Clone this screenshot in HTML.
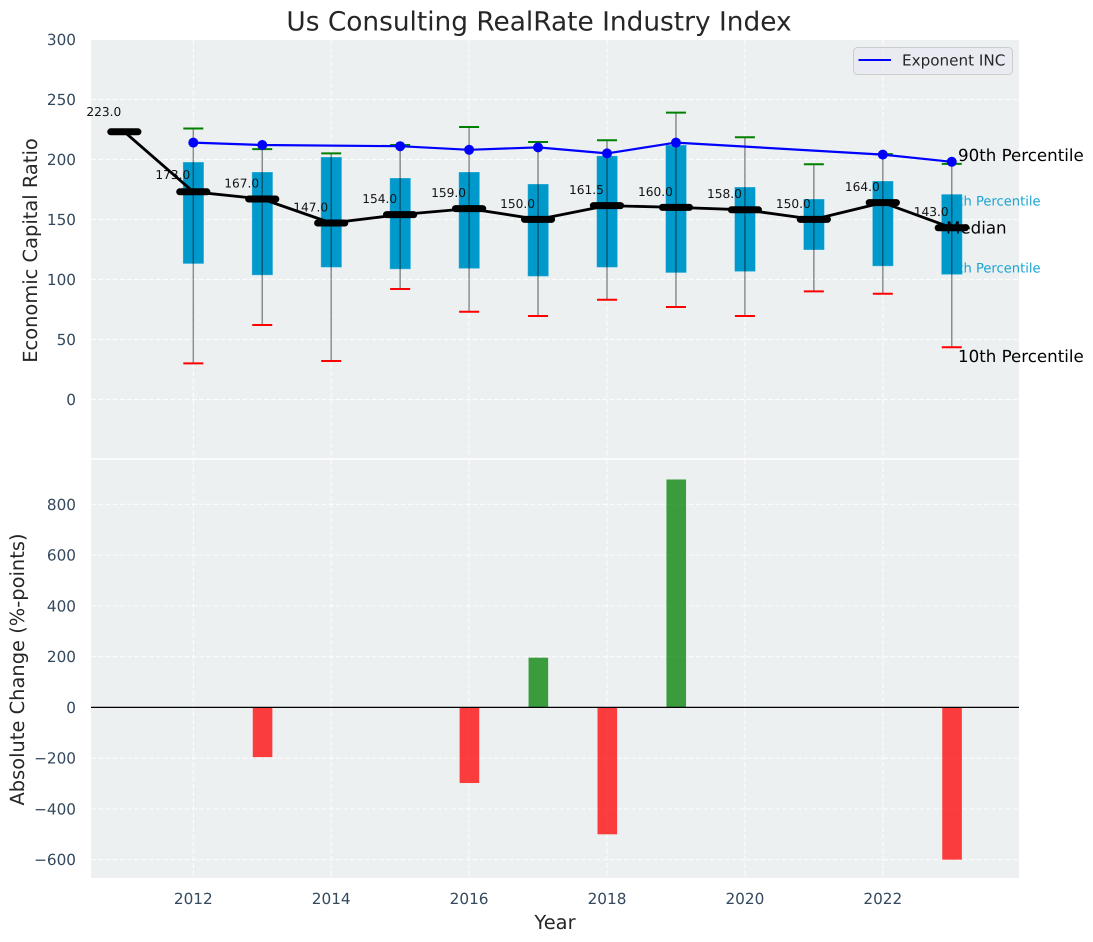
<!DOCTYPE html>
<html lang="en">
<head>
<meta charset="utf-8">
<title>Us Consulting RealRate Industry Index</title>
<style>
html,body{margin:0;padding:0;background:#fff;}
svg{display:block;font-family:"DejaVu Sans","Liberation Sans",sans-serif;text-rendering:geometricPrecision;}
.tick{font-size:15.28px;fill:#34495e;}
.axis-title{font-size:19.44px;fill:#262626;}
.note{font-size:16.67px;fill:#000;}
.cyan-note{font-size:13.1px;fill:#1ba3d1;}
.value{font-size:12.2px;fill:#111;}
</style>
</head>
<body>
<svg id="chart" width="1093" height="942" viewBox="0 0 1093 942" xmlns="http://www.w3.org/2000/svg">
  <rect x="0" y="0" width="1093" height="942" fill="#fff"/>
  <rect x="91" y="40" width="928" height="418.2" fill="#ecf0f1"/>
  <rect x="91" y="459.8" width="928" height="418.2" fill="#ecf0f1"/>
  <g id="grid"></g>
  <text class="cyan-note" x="941.7" y="205.5">75th Percentile</text>
  <text class="cyan-note" x="941.7" y="272.5">25th Percentile</text>
  <g id="boxes"></g>
  <g id="whiskers"></g>
  <g id="labels"></g>
  <g id="medians"></g>
  <g id="company"></g>
  <g id="bars"></g>
  <line x1="91" y1="707.4" x2="1019" y2="707.4" stroke="#000" stroke-width="1.2"/>
  <g id="ticks"></g>
  <text x="539" y="30.5" text-anchor="middle" font-size="26.39" fill="#262626">Us Consulting RealRate Industry Index</text>
  <text class="axis-title" transform="translate(37,250.5) rotate(-90)" text-anchor="middle">Economic Capital Ratio</text>
  <text class="axis-title" transform="translate(24,669.5) rotate(-90)" text-anchor="middle">Absolute Change (%-points)</text>
  <text class="axis-title" x="555" y="929" text-anchor="middle">Year</text>
  <text class="note" x="958" y="161">90th Percentile</text>
  <text class="note" x="946" y="233.5">Median</text>
  <text class="note" x="958" y="362">10th Percentile</text>
  <g>
    <rect x="853.5" y="47.5" width="159" height="27" rx="4" fill="#eaeaf2" fill-opacity="0.8" stroke="#cccccc" stroke-width="1"/>
    <line x1="858.5" y1="60" x2="891" y2="60" stroke="#0000ff" stroke-width="2.1"/>
    <text x="902" y="65.5" font-size="15.2" fill="#262626">Exponent INC</text>
  </g>
</svg>
<script>
var medianYears = [2011,2012,2013,2014,2015,2016,2017,2018,2019,2020,2021,2022,2023];
var medianValues = [223,173,167,147,154,159,150,161.5,160,158,150,164,143];
var boxYears = [2012,2013,2014,2015,2016,2017,2018,2019,2020,2021,2022,2023];
var p75Values = [197.8,189.5,202,184.5,189.5,179.5,203,212,177,167,182,171];
var p25Values = [113,103.5,110,108.5,109,102.5,110,105.5,106.5,124.5,111,104];
var p90Values = [225.7,208.6,205,212,227,214.5,216,239,218.5,196,204.4,196.3];
var p10Values = [30,62,32,92,73,69.5,83,77,69.5,90,88,43.5];
var companyYears = [2012,2013,2015,2016,2017,2018,2019,2022,2023];
var companyValues = [214,212,211,208,210,205,214,204,198];
var changeYears = [2013,2016,2017,2018,2019,2023];
var changeValues = [-196,-298,196,-500,898,-600];
var xTicks = [2012,2014,2016,2018,2020,2022];
var topYTicks = [0,50,100,150,200,250,300];
var bottomYTicks = [-600,-400,-200,0,200,400,600,800];

var SVGNS = 'http://www.w3.org/2000/svg';
function xPos(year){ return 193.3 + (year - 2012) * 68.95; }
function yTop(v){ return 399.4 - v * 1.2; }
function yBottom(v){ return 707.4 - v * 0.2538; }
function make(parentId, tag, attrs){
  var el = document.createElementNS(SVGNS, tag);
  for (var k in attrs) { el.setAttribute(k, attrs[k]); }
  document.getElementById(parentId).appendChild(el);
  return el;
}
function gridLine(x1,y1,x2,y2,name){
  var el = make('grid','line',{x1:x1,y1:y1,x2:x2,y2:y2,stroke:'#ffffff','stroke-opacity':0.85,'stroke-width':1.1,'stroke-dasharray':'5 2.2'});
  
  
}
xTicks.forEach(function(t){
  gridLine(xPos(t),40,xPos(t),458.2,'top-x-grid-' + t);
  gridLine(xPos(t),459.8,xPos(t),878,'bottom-x-grid-' + t);
  var label = make('ticks','text',{x:xPos(t),y:904,'text-anchor':'middle','class':'tick'});
  label.textContent = String(t);
  
  
});
topYTicks.forEach(function(t){
  if (t !== 300) { gridLine(91,yTop(t),1019,yTop(t),'top-y-grid-' + t); }
  var label = make('ticks','text',{x:76,y:yTop(t)+5.5,'text-anchor':'end','class':'tick'});
  label.textContent = String(t);
  
  
});
bottomYTicks.forEach(function(t){
  gridLine(91,yBottom(t),1019,yBottom(t),'bottom-y-grid-' + t);
  var label = make('ticks','text',{x:76,y:yBottom(t)+5.5,'text-anchor':'end','class':'tick'});
  label.textContent = String(t).replace('-', '\u2212');
  
  
});
boxYears.forEach(function(year,i){
  var x = xPos(year);
  var box = make('boxes','rect',{x:x-10.4,y:yTop(p75Values[i]),width:21,height:yTop(p25Values[i])-yTop(p75Values[i]),fill:'#0099cc',stroke:'#ffffff','stroke-opacity':0.3,'stroke-width':1});
  
  
  var whisker = make('whiskers','line',{x1:x,y1:yTop(p10Values[i]),x2:x,y2:yTop(p90Values[i]),stroke:'#000000','stroke-opacity':0.42,'stroke-width':1.5});
  
  
  var capHigh = make('whiskers','line',{x1:x-10,y1:yTop(p90Values[i]),x2:x+10,y2:yTop(p90Values[i]),stroke:'#008000','stroke-width':2});
  
  
  var capLow = make('whiskers','line',{x1:x-10,y1:yTop(p10Values[i]),x2:x+10,y2:yTop(p10Values[i]),stroke:'#ff0000','stroke-width':2});
  
  
});
var medianLine = make('medians','polyline',{fill:'none',stroke:'#000000','stroke-width':2.8,'stroke-linejoin':'round',points:medianYears.map(function(y,i){return xPos(y)+','+yTop(medianValues[i]);}).join(' ')});


medianYears.forEach(function(year,i){
  var x = xPos(year), y = yTop(medianValues[i]);
  var seg = make('medians','line',{x1:x-13.6,y1:y,x2:x+13.6,y2:y,stroke:'#000000','stroke-width':7,'stroke-linecap':'round'});
  
  
  var lift = i === 0 ? 16 : i === 1 ? 13 : 11.6;
  var label = make('labels','text',{x:x-20.5,y:y-lift,'text-anchor':'middle','class':'value'});
  label.textContent = medianValues[i].toFixed(1);
  
  
});
var companyLine = make('company','polyline',{fill:'none',stroke:'#0000ff','stroke-width':2.2,points:companyYears.map(function(y,i){return xPos(y)+','+yTop(companyValues[i]);}).join(' ')});


companyYears.forEach(function(year,i){
  var dot = make('company','circle',{cx:xPos(year),cy:yTop(companyValues[i]),r:5,fill:'#0000ff'});
  
  
});
changeYears.forEach(function(year,i){
  var v = changeValues[i];
  var top = Math.min(yBottom(v), yBottom(0));
  var bar = make('bars','rect',{x:xPos(year)-9.5,y:top,width:19.6,height:Math.abs(yBottom(v)-yBottom(0)),fill:v>=0?'#008000':'#ff0000','fill-opacity':0.75});
  
  
});
</script>
</body>
</html>
